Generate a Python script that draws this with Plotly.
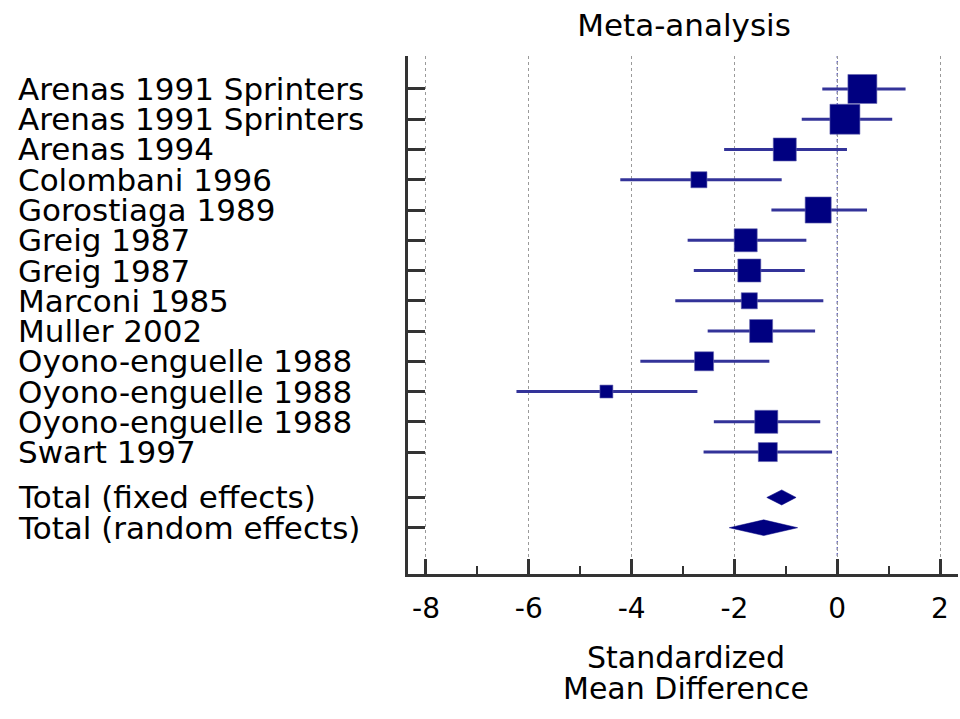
import numpy as np
import plotly.graph_objects as go

# ---------------- data ----------------
studies = ["Arenas 1991 Sprinters", "Arenas 1991 Sprinters", "Arenas 1994",
           "Colombani 1996", "Gorostiaga 1989", "Greig 1987", "Greig 1987",
           "Marconi 1985", "Muller 2002", "Oyono-enguelle 1988",
           "Oyono-enguelle 1988", "Oyono-enguelle 1988", "Swart 1997"]
smd = [0.49, 0.15, -1.02, -2.69, -0.37, -1.78, -1.71, -1.71, -1.48, -2.59, -4.49, -1.38, -1.35]
ci_low = [-0.29, -0.69, -2.20, -4.22, -1.28, -2.91, -2.79, -3.15, -2.52, -3.83, -6.24, -2.40, -2.60]
ci_high = [1.33, 1.07, 0.19, -1.08, 0.58, -0.60, -0.63, -0.27, -0.43, -1.32, -2.72, -0.33, -0.10]
weight_pct = [13.0, 13.9, 8.2, 4.0, 10.5, 8.2, 8.2, 4.0, 8.2, 5.6, 2.6, 8.2, 5.6]

pooled_labels = ["Total (fixed effects)", "Total (random effects)"]
pooled_est = [-1.08, -1.43]
pooled_low = [-1.37, -2.10]
pooled_high = [-0.80, -0.77]

x_tick_vals = [-8, -6, -4, -2, 0, 2]
x_tick_text = ["-8", "-6", "-4", "-2", "0", "2"]
x_minor_vals = [-7, -5, -3, -1, 1]

title_text = "Meta-analysis"
x_title_lines = ["Standardized", "Mean Difference"]

# ---------------- layout constants ----------------
FONT = "DejaVu Sans, Liberation Sans, Arial, sans-serif"
NAVY = "#000080"
CI_COL = "#333399"
AXIS_COL = "#333333"
W, H = 960, 719
ML, MR, MT, MB = 408, 2, 56, 145
PW, PH = W - ML - MR, H - MT - MB

n = len(studies)
y_study = [i + 1 for i in range(n)]
y_pooled = [n + 1.5, n + 2.5]

sizes = [8.04 * np.sqrt(w) for w in weight_pct]

fig = go.Figure()

fig.add_trace(go.Scatter(
    x=smd, y=y_study, mode="markers",
    marker=dict(symbol="square", size=sizes, color=NAVY, opacity=1,
                line=dict(width=0.6, color="#6666b0")),
    error_x=dict(type="data", symmetric=False,
                 array=[h - e for h, e in zip(ci_high, smd)],
                 arrayminus=[e - l for e, l in zip(smd, ci_low)],
                 color=CI_COL, thickness=3, width=0),
    showlegend=False, hoverinfo="skip"))

half_h = [0.25, 0.26]
for est, lo, hi, yy, hh in zip(pooled_est, pooled_low, pooled_high, y_pooled, half_h):
    fig.add_trace(go.Scatter(
        x=[lo, est, hi, est, lo], y=[yy, yy - hh, yy, yy + hh, yy],
        mode="lines", fill="toself", fillcolor=NAVY,
        line=dict(width=0.5, color=NAVY), showlegend=False, hoverinfo="skip"))

# zero reference line
fig.add_shape(type="line", x0=0, x1=0, xref="x", y0=0, y1=1, yref="paper",
              line=dict(color="#2a2aa8", width=1, dash="dot"), layer="below")

# left-aligned study labels
all_labels = studies + pooled_labels
all_y = y_study + y_pooled
for lab, yy in zip(all_labels, all_y):
    fig.add_annotation(text=lab, x=(16 - ML) / PW, xref="paper", xanchor="left",
                       y=yy, yref="y", yanchor="middle", showarrow=False,
                       font=dict(family=FONT, size=31, color="black"))

# x-axis title (two tight lines)
for i, line in enumerate(x_title_lines):
    ypx = 657 + 31 * i
    fig.add_annotation(text=line, x=0.505, xref="paper", xanchor="center",
                       y=(H - MB - ypx) / PH, yref="paper", yanchor="middle",
                       showarrow=False, font=dict(family=FONT, size=30, color="black"))

fig.update_layout(
    width=W, height=H,
    margin=dict(l=ML, r=MR, t=MT, b=MB, pad=0),
    paper_bgcolor="white", plot_bgcolor="white",
    font=dict(family=FONT, color="black"),
    title=dict(text=title_text, x=(684 - ML) / PW, xref="paper", xanchor="center",
               y=1 - 25 / H, yref="container", yanchor="middle",
               font=dict(family=FONT, size=31, color="black")),
    xaxis=dict(range=[-8.35, 2.35], tickmode="array", tickvals=x_tick_vals,
               ticktext=x_tick_text, ticks="inside", ticklen=15, tickwidth=3,
               tickcolor=AXIS_COL, showline=True, linewidth=3, linecolor=AXIS_COL,
               showgrid=True, gridcolor="#9a9a9a", griddash="dot", gridwidth=1,
               zeroline=False, tickfont=dict(family=FONT, size=28, color="black"),
               ticklabelstandoff=7,
               minor=dict(tickmode="array", tickvals=x_minor_vals, ticks="inside",
                          ticklen=8, tickwidth=2, tickcolor=AXIS_COL, showgrid=False),
               fixedrange=True),
    yaxis=dict(range=[17.03, -0.09], tickmode="array", tickvals=all_y,
               showticklabels=False, ticks="inside", ticklen=17, tickwidth=3,
               tickcolor=AXIS_COL, showline=True, linewidth=3, linecolor=AXIS_COL,
               showgrid=False, zeroline=False, fixedrange=True),
)

fig.write_html("out.html")
